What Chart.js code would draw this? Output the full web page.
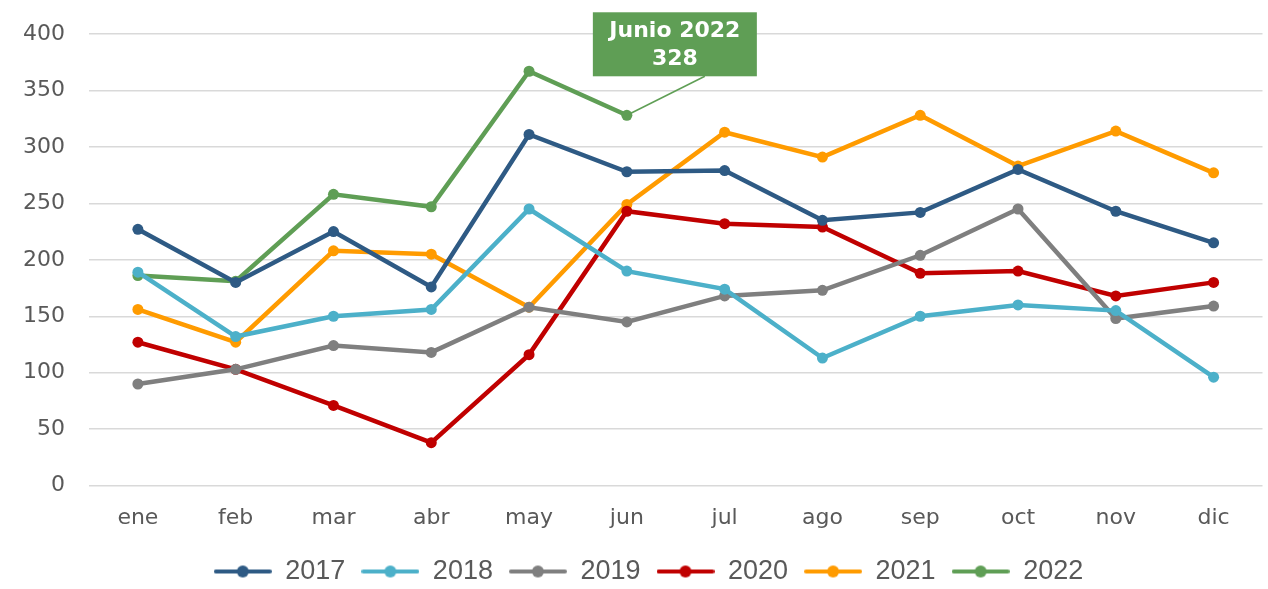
<!DOCTYPE html>
<html>
<head>
<meta charset="utf-8">
<script src="https://cdn.jsdelivr.net/npm/chart.js@4"></script>
<style>
  html, body { margin: 0; padding: 0; background: #fff; }
  #chart { display: block; }
</style>
</head>
<body>
<canvas id="chart" width="1268" height="589"></canvas>
<script>
const months = ['ene', 'feb', 'mar', 'abr', 'may', 'jun', 'jul', 'ago', 'sep', 'oct', 'nov', 'dic'];
const yTicks = [0, 50, 100, 150, 200, 250, 300, 350, 400];

const v2017 = [227, 180, 225, 176, 311, 278, 279, 235, 242, 280, 243, 215];
const v2018 = [189, 132, 150, 156, 245, 190, 174, 113, 150, 160, 155, 96];
const v2019 = [90, 103, 124, 118, 158, 145, 168, 173, 204, 245, 148, 159];
const v2020 = [127, 103, 71, 38, 116, 243, 232, 229, 188, 190, 168, 180];
const v2021 = [156, 127, 208, 205, 158, 249, 313, 291, 328, 283, 314, 277];
const v2022 = [186, 181, 258, 247, 367, 328];

const noteIndex = 5;
const noteLines = ['Junio 2022', '328'];

function legendIcon(color) {
  const c = document.createElement('canvas');
  c.width = 58; c.height = 14;
  const g = c.getContext('2d');
  g.strokeStyle = color;
  g.lineWidth = 4;
  g.lineCap = 'round';
  g.beginPath(); g.moveTo(2, 7); g.lineTo(56, 7); g.stroke();
  g.fillStyle = color;
  g.beginPath(); g.arc(29, 7, 6, 0, Math.PI * 2); g.fill();
  return c;
}

function series(label, data, color) {
  return {
    label: label,
    data: data,
    borderColor: color,
    backgroundColor: color,
    pointBackgroundColor: color,
    pointBorderColor: color,
    borderWidth: 4.5,
    pointRadius: 5.5,
    pointBorderWidth: 0,
    tension: 0,
    fill: false
  };
}

const datasets = [
  series('2017', v2017, '#2E5A84'),
  series('2018', v2018, '#4CB0C9'),
  series('2019', v2019, '#7F7F7F'),
  series('2020', v2020, '#C00000'),
  series('2021', v2021, '#FF9B00'),
  series('2022', v2022, '#5F9E55')
];

const notePlugin = {
  id: 'note',
  beforeDraw(chart) {
    // legend sits a bit right of centre in the original
    const lg = chart.legend;
    if (lg && !lg._shifted) {
      const orig = lg.draw;
      lg.draw = function (area) {
        chart.ctx.save();
        chart.ctx.translate(16, 0);
        orig.call(this, area);
        chart.ctx.restore();
      };
      lg._shifted = true;
    }
  },
  afterDatasetsDraw(chart) {
    const meta = chart.getDatasetMeta(5);
    const pt = meta.data[noteIndex];
    if (!pt) return;
    const ctx = chart.ctx;
    const bx = pt.x + 48, by = pt.y - 71;
    const w = 164, h = 64;
    ctx.save();
    ctx.strokeStyle = '#5F9E55';
    ctx.lineWidth = 1.5;
    ctx.beginPath();
    ctx.moveTo(pt.x, pt.y);
    ctx.lineTo(bx + 30, by + h / 2);
    ctx.stroke();
    ctx.fillStyle = '#5F9E55';
    ctx.fillRect(bx - w / 2, by - h / 2, w, h);
    ctx.fillStyle = '#ffffff';
    ctx.font = 'bold 22px Verdana, "DejaVu Sans", sans-serif';
    ctx.textAlign = 'center';
    ctx.textBaseline = 'middle';
    ctx.fillText(noteLines[0], bx, by - 13);
    ctx.fillText(noteLines[1], bx, by + 15);
    ctx.restore();
  }
};

new Chart(document.getElementById('chart'), {
  type: 'line',
  data: { labels: months, datasets: datasets },
  plugins: [notePlugin],
  options: {
    responsive: false,
    animation: false,
    layout: { padding: { top: 34, right: 3, left: 0, bottom: -6 } },
    plugins: {
      tooltip: { enabled: false },
      legend: {
        position: 'bottom',
        labels: {
          usePointStyle: true,
          pointStyleWidth: 58,
          padding: 16,
          color: '#595959',
          font: { family: '"Liberation Sans Narrow", "Arial Narrow", sans-serif', size: 27 },
          generateLabels(chart) {
            return chart.data.datasets.map((ds, i) => ({
              text: ds.label,
              fillStyle: ds.borderColor,
              strokeStyle: ds.borderColor,
              fontColor: '#595959',
              pointStyle: legendIcon(ds.borderColor),
              datasetIndex: i,
              hidden: false
            }));
          }
        }
      }
    },
    scales: {
      x: {
        offset: true,
        grid: { display: false },
        border: { display: false },
        ticks: {
          color: '#595959',
          padding: 11,
          font: { family: 'Verdana, "DejaVu Sans", sans-serif', size: 22 }
        }
      },
      y: {
        min: 0,
        max: 400,
        afterBuildTicks(scale) { scale.ticks = yTicks.map(v => ({ value: v })); },
        afterFit(scale) {
          scale.width = 89;
          scale.paddingTop = 0;
          scale.paddingBottom = 0;
        },
        grid: { color: '#D9D9D9', lineWidth: 1.5, drawTicks: false },
        border: { display: false },
        ticks: {
          color: '#595959',
          padding: 24,
          font: { family: 'Verdana, "DejaVu Sans", sans-serif', size: 22 }
        }
      }
    }
  }
});
</script>
</body>
</html>
